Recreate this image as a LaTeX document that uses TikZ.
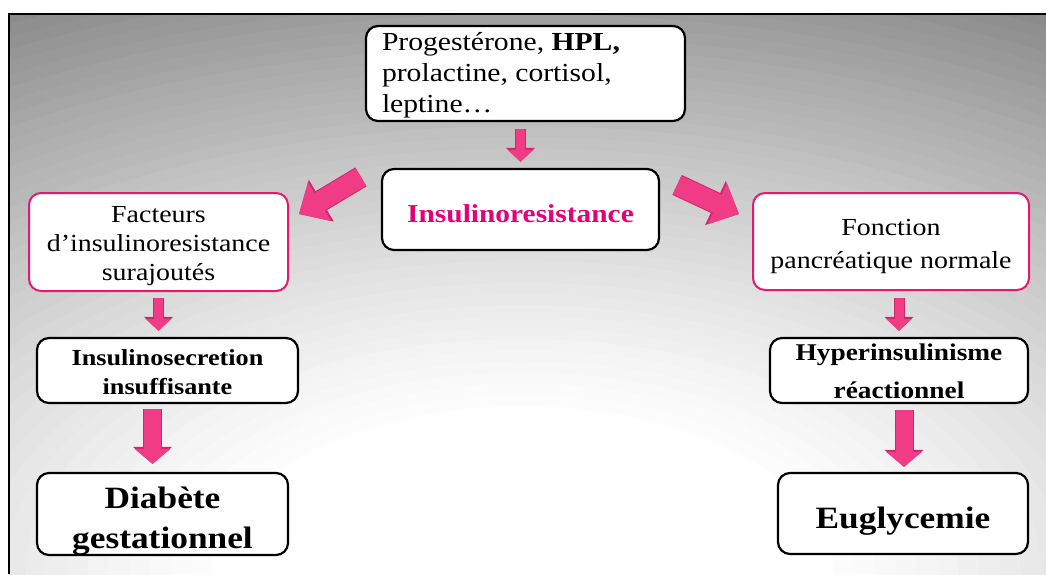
\documentclass[tikz,border=0pt]{standalone}
\usepackage{fontspec}
\setmainfont{Liberation Serif}[FakeStretch=1.14]
\usetikzlibrary{arrows.meta}
\definecolor{pinkline}{RGB}{230,25,110}
\definecolor{pinktext}{RGB}{230,0,120}
\definecolor{arrowpink}{RGB}{240,60,132}
\definecolor{arrowedge}{RGB}{205,40,105}
% #1 raise (pt, up), #2 column type, #3 lines
\newcommand\placetext[3]{\raisebox{#1}[0pt][0pt]{\begin{tabular}[t]{@{}#2@{}}#3\end{tabular}}}
\begin{document}
\begin{tikzpicture}[x=1pt,y=-1pt,
  box/.style={draw=black, line width=2.2pt, rounded corners=12pt, fill=white, align=center, inner sep=0pt},
  pbox/.style={box, draw=pinkline, line width=2pt},
  arrS/.style={draw=arrowpink, line width=9pt, -{Triangle[width=25pt,length=12pt]},
    preaction={draw=arrowedge, line width=11pt, -{Triangle[width=28pt,length=14pt]}}},
  arrM/.style={draw=arrowpink, line width=20pt, -{Triangle[width=44pt,length=24pt]},
    preaction={draw=arrowedge, line width=22pt, -{Triangle[width=47pt,length=26pt]}}},
  arrL/.style={draw=arrowpink, line width=17pt, -{Triangle[width=35pt,length=15pt]},
    preaction={draw=arrowedge, line width=19pt, -{Triangle[width=38pt,length=17pt]}}}]
\useasboundingbox (0,0) rectangle (1046,574);
\begin{scope}
  \clip (9,14) rectangle (1046,574);
  \fill[black!50] (9,14) rectangle (1046,574);
  \foreach \d in {130,128,...,30}{
    \pgfmathsetmacro\k{48*((\d-28)/88)^1.25}
    \fill[black!\k] (523,574) ellipse [x radius={10.37*\d pt}, y radius={5.6*\d pt}];
  }
\end{scope}
\draw[line width=2.5pt] (9,574) -- (9,14) -- (1046,14);

\node[box, minimum width=319pt, minimum height=95pt, font=\fontsize{26}{31}\selectfont] (top) at (525.5,73.5)
  {\raisebox{23.5pt}[0pt][0pt]{\makebox[287pt][l]{\begin{tabular}[t]{@{}l@{}}Progestérone, \textbf{HPL,}\\ prolactine, cortisol,\\ leptine…\end{tabular}}}};
\node[box, minimum width=277pt, minimum height=81pt, text=pinktext, font=\fontsize{25.8}{31}\selectfont\bfseries] (ir) at (520.5,209.5)
  {\placetext{-12.5pt}{c}{Insulinoresistance}};
\node[pbox, minimum width=259pt, minimum height=98pt, font=\fontsize{24.5}{29}\selectfont] (left) at (158.5,242)
  {\placetext{20pt}{c}{Facteurs\\ d’insulinoresistance\\ surajoutés}};
\node[pbox, minimum width=276pt, minimum height=97pt, font=\fontsize{24.5}{33}\selectfont] (right) at (891,241.5)
  {\placetext{6.5pt}{c}{Fonction\\ pancréatique normale}};
\node[box, minimum width=261pt, minimum height=65pt, font=\fontsize{23}{29}\selectfont\bfseries] (insec) at (167.5,370.5)
  {\placetext{5.5pt}{c}{Insulinosecretion\\ insuffisante}};
\node[box, minimum width=258pt, minimum height=65pt, font=\fontsize{24}{38}\selectfont\bfseries] (hyper) at (899,370.5)
  {\placetext{10.5pt}{c}{Hyperinsulinisme\\ réactionnel}};
\node[box, minimum width=251pt, minimum height=82pt, font=\fontsize{31}{40}\selectfont\bfseries] (diab) at (162.5,514)
  {\placetext{6pt}{c}{Diabète\\ gestationnel}};
\node[box, minimum width=250pt, minimum height=81pt, font=\fontsize{31}{38}\selectfont\bfseries] (eug) at (903,513.5)
  {\placetext{-14.5pt}{c}{Euglycemie}};

\draw[arrS, shorten <=7pt, shorten >=6pt] (ir.north |- top.south) -- (ir.north);
\draw[arrM] ([shift={(-20,9)}]ir.north west) -- ([shift={(10,22)}]left.north east);
\draw[arrM] ([shift={(17,17)}]ir.north east) -- ([shift={(-13,22)}]right.north west);
\draw[arrS, shorten <=6pt, shorten >=6pt] (left.south) -- (left.south |- insec.north);
\draw[arrS, shorten <=7pt, shorten >=6pt] (hyper.north |- right.south) -- (hyper.north);
\coordinate (bl) at ([xshift=-15pt]insec.south);
\coordinate (br) at ([xshift=5pt]hyper.south);
\draw[arrL, shorten <=5pt, shorten >=8pt] (bl) -- (bl |- diab.north);
\draw[arrL, shorten <=6pt, shorten >=5pt] (br) -- (br |- eug.north);
\end{tikzpicture}
\end{document}
